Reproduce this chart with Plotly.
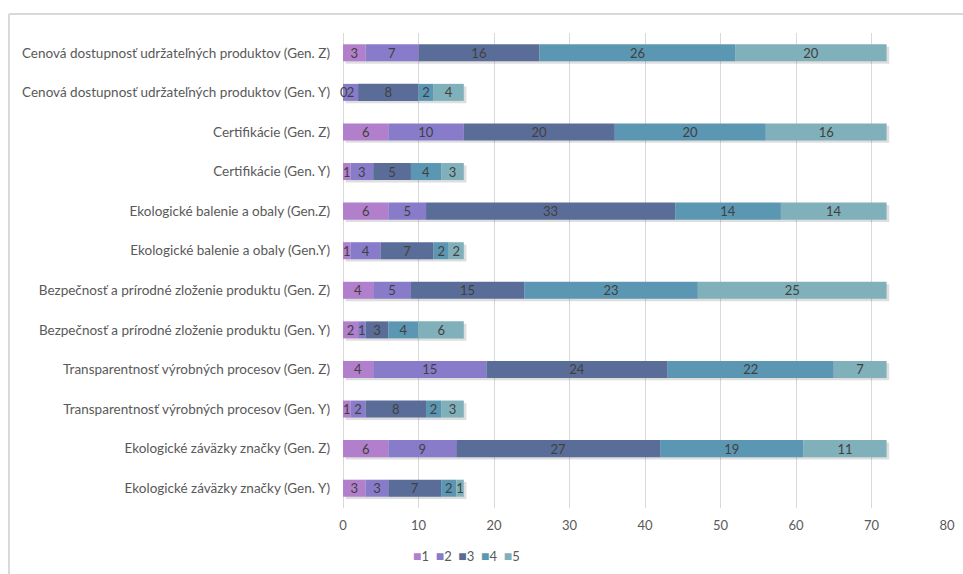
import plotly.graph_objects as go

# Categories listed bottom-to-top (Plotly draws the first category at the bottom)
categories = [
    "Ekologické záväzky značky (Gen. Y)",
    "Ekologické záväzky značky (Gen. Z)",
    "Transparentnosť výrobných procesov (Gen. Y)",
    "Transparentnosť výrobných procesov (Gen. Z)",
    "Bezpečnosť a prírodné zloženie produktu (Gen. Y)",
    "Bezpečnosť a prírodné zloženie produktu (Gen. Z)",
    "Ekologické balenie a obaly (Gen.Y)",
    "Ekologické balenie a obaly (Gen.Z)",
    "Certifikácie (Gen. Y)",
    "Certifikácie (Gen. Z)",
    "Cenová dostupnosť udržateľných produktov (Gen. Y)",
    "Cenová dostupnosť udržateľných produktov (Gen. Z)",
]

series_names = ["1", "2", "3", "4", "5"]
rating_1 = [3, 6, 1, 4, 2, 4, 1, 6, 1, 6, 0, 3]
rating_2 = [3, 9, 2, 15, 1, 5, 4, 5, 3, 10, 2, 7]
rating_3 = [7, 27, 8, 24, 3, 15, 7, 33, 5, 20, 8, 16]
rating_4 = [2, 19, 2, 22, 4, 23, 2, 14, 4, 20, 2, 26]
rating_5 = [1, 11, 3, 7, 6, 25, 2, 14, 3, 16, 4, 20]
series_values = [rating_1, rating_2, rating_3, rating_4, rating_5]

colors = ["#b27fcc", "#887cca", "#5a6d98", "#5b97b3", "#80b0ba"]

FONT = "Lato"
TEXT_COLOR = "#595959"
LABEL_COLOR = "#404040"
BAR_WIDTH = 0.43

totals = [sum(vals) for vals in zip(*series_values)]

fig = go.Figure()

# soft drop shadow behind each full bar
fig.add_trace(go.Bar(
    y=categories, x=totals, base=[0.35] * len(totals), orientation="h",
    width=BAR_WIDTH, offset=-BAR_WIDTH / 2 - 0.06,
    marker=dict(color="rgba(0,0,0,0.13)", line=dict(width=0)),
    showlegend=False, hoverinfo="skip",
))

annotations = []
running = [0] * len(categories)
for name, vals, color in zip(series_names, series_values, colors):
    fig.add_trace(go.Bar(
        y=categories, x=vals, base=list(running), orientation="h", name=name,
        width=BAR_WIDTH, offset=-BAR_WIDTH / 2,
        marker=dict(color=color, line=dict(width=0)),
        text=[str(v) for v in vals], textposition="inside", textangle=0,
        insidetextanchor="middle",
        textfont=dict(family=FONT, size=13, color=LABEL_COLOR),
        cliponaxis=False, showlegend=False,
    ))
    # zero-width segments still carry their "0" label at the segment start
    for cat, v, b in zip(categories, vals, running):
        if v == 0:
            annotations.append(dict(
                x=b, y=cat, xref="x", yref="y", text="0", showarrow=False,
                xanchor="center", xshift=1,
                font=dict(family=FONT, size=13, color=LABEL_COLOR),
            ))
    running = [r + v for r, v in zip(running, vals)]

# compact legend row under the axis: small coloured square + series name
legend_text = "  ".join(
    f'<span style="color:{c};font-size:14px">■</span>{n}'
    for n, c in zip(series_names, colors)
)
annotations.append(dict(
    x=0.205, y=-0.101, xref="paper", yref="paper",
    text=legend_text, showarrow=False, xanchor="center", yanchor="middle",
    font=dict(family=FONT, size=13, color=TEXT_COLOR),
))

fig.update_layout(
    width=963, height=574,
    margin=dict(l=343, r=16, t=33, b=66, autoexpand=False),
    paper_bgcolor="white", plot_bgcolor="white",
    barmode="overlay",
    font=dict(family=FONT, size=13, color=TEXT_COLOR),
    uniformtext=dict(minsize=13, mode="show"),
    showlegend=False,
    annotations=annotations,
    shapes=[
        # light chart-area frame
        dict(type="line", xref="paper", yref="paper", x0=-0.553, x1=1.1,
             y0=1.04, y1=1.04, line=dict(color="#d9d9d9", width=2)),
        dict(type="line", xref="paper", yref="paper", x0=-0.553, x1=-0.553,
             y0=1.04, y1=-0.2, line=dict(color="#d9d9d9", width=2)),
    ],
)

fig.update_xaxes(
    range=[0, 80], dtick=10, tick0=0, automargin=False,
    showgrid=True, gridcolor="#d9d9d9", gridwidth=1,
    zeroline=True, zerolinecolor="#d9d9d9", zerolinewidth=1,
    showline=False, ticks="", ticklabelstandoff=8,
    tickfont=dict(family=FONT, size=13, color=TEXT_COLOR),
)
fig.update_yaxes(
    showgrid=False, showline=False, ticks="", ticklabelstandoff=12,
    automargin=False,
    tickfont=dict(family=FONT, size=13.5, color=TEXT_COLOR),
)

fig.write_html("out.html")
